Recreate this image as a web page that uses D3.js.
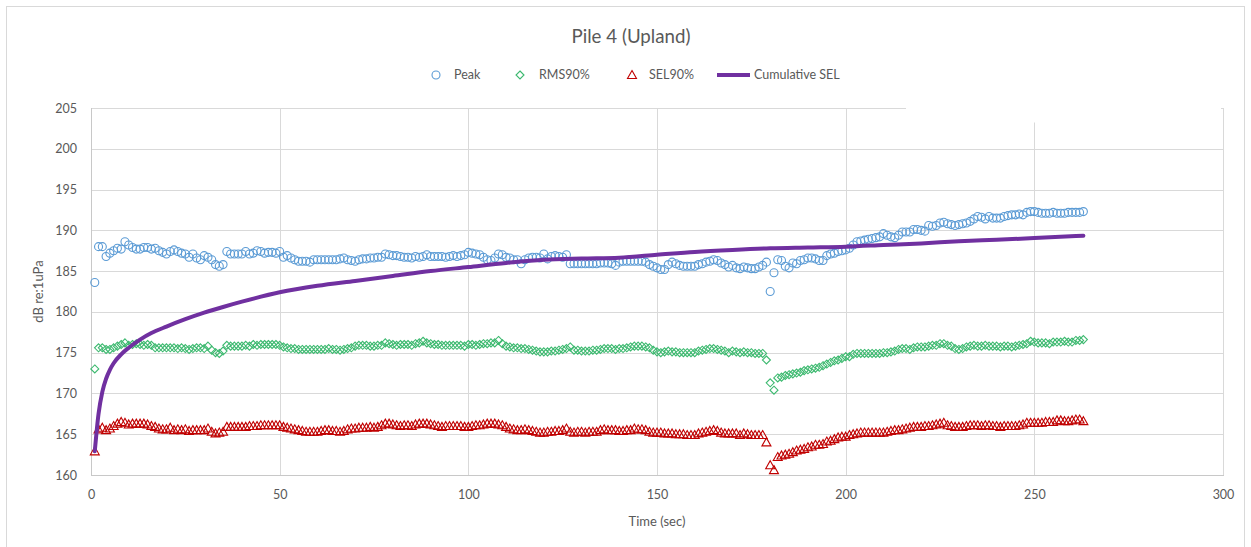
<!DOCTYPE html>
<html>
<head>
<meta charset="utf-8">
<script src="https://cdn.jsdelivr.net/npm/d3@7"></script>
<style>
  body { margin: 0; background: #fff; }
  text { font-family: Lato, "Open Sans", sans-serif; fill: #595959; }
</style>
</head>
<body>
<div id="chart"></div>
<script>
// readings per second, t = 1 .. 263
var peak = [
  183.6,188.0,188.0,186.8,187.2,187.5,187.8,187.7,188.6,
  188.2,187.9,187.7,187.7,187.9,187.9,187.7,187.8,187.5,187.3,
  187.1,187.4,187.6,187.4,187.2,187.1,186.7,187.1,186.6,186.4,
  186.9,186.7,186.4,185.8,185.6,185.8,187.4,187.1,187.1,187.1,
  187.1,187.4,187.1,187.2,187.5,187.4,187.2,187.3,187.3,187.2,
  187.4,186.7,186.9,186.6,186.4,186.2,186.2,186.2,186.1,186.4,
  186.4,186.4,186.4,186.4,186.4,186.4,186.5,186.6,186.4,186.3,186.2,
  186.4,186.5,186.5,186.6,186.6,186.7,186.7,187.1,187.0,186.9,
  186.9,186.8,186.7,186.7,186.6,186.8,186.7,186.8,187.0,186.8,
  186.8,186.8,186.8,186.7,186.8,186.9,186.8,186.9,187.0,187.3,
  187.2,187.1,187.0,186.7,186.4,186.3,186.6,187.1,187.0,186.7,
  186.6,186.4,186.4,185.9,186.4,186.6,186.7,186.7,186.6,187.1,
  186.5,186.8,186.9,186.8,186.7,187.0,185.9,185.9,185.9,185.9,
  185.9,185.9,185.9,185.9,186.0,186.0,186.0,185.9,185.7,186.1,
  186.2,186.2,186.2,186.2,186.2,186.2,186.1,185.8,185.6,185.4,
  185.2,185.2,185.8,186.1,185.9,185.7,185.6,185.6,185.6,185.6,
  185.8,185.9,186.1,186.2,186.4,186.3,186.0,185.8,185.5,185.7,
  185.4,185.3,185.5,185.4,185.3,185.3,185.5,185.7,186.1,182.5,
  184.8,186.4,186.3,185.6,185.4,186.0,185.9,186.3,186.4,186.6,
  186.6,186.5,186.3,186.3,186.9,187.1,187.2,187.4,187.5,187.6,
  187.8,188.2,188.6,188.7,188.8,188.9,189.0,189.1,189.2,189.6,
  189.4,189.2,189.1,189.4,189.8,189.8,189.8,190.1,190.1,190.0,
  189.9,190.6,190.5,190.6,190.9,191.0,190.8,190.7,190.6,190.7,
  190.8,190.9,191.1,191.4,191.7,191.6,191.4,191.7,191.5,191.5,
  191.5,191.7,191.8,191.9,191.9,192.0,191.9,192.2,192.3,192.3,
  192.2,192.1,192.1,192.1,192.2,192.1,192.1,192.1,192.2,192.2,
  192.2,192.2,192.3
];

var rms90 = [
  173.0,175.6,175.6,175.4,175.4,175.6,175.8,176.0,176.2,
  175.9,176.0,176.1,176.0,175.9,176.0,175.9,175.6,175.6,175.6,
  175.6,175.6,175.6,175.5,175.6,175.5,175.4,175.5,175.6,175.6,
  175.5,175.8,175.3,175.0,174.9,175.2,175.9,175.8,175.8,175.8,
  175.8,175.9,175.8,176.0,175.9,176.0,176.0,176.0,176.0,176.0,
  175.9,175.7,175.6,175.5,175.5,175.4,175.4,175.4,175.4,175.4,
  175.4,175.4,175.4,175.5,175.4,175.4,175.3,175.4,175.5,175.6,175.8,
  175.9,175.9,175.9,175.8,175.8,175.9,175.9,176.2,176.1,176.0,
  175.9,176.0,176.0,176.0,175.9,176.1,176.2,176.4,176.2,176.1,
  176.0,176.0,175.9,175.9,175.9,175.9,175.9,175.9,175.8,176.0,
  176.0,175.9,176.0,176.1,176.1,176.2,176.2,176.5,176.1,175.8,
  175.7,175.6,175.6,175.5,175.5,175.4,175.3,175.2,175.1,175.1,
  175.1,175.2,175.2,175.3,175.4,175.5,175.7,175.3,175.3,175.2,
  175.2,175.2,175.3,175.3,175.4,175.5,175.5,175.5,175.4,175.5,
  175.5,175.6,175.7,175.8,175.8,175.8,175.7,175.6,175.3,175.1,
  175.0,175.1,175.2,175.1,175.1,175.0,175.0,175.0,175.0,175.0,
  175.2,175.3,175.4,175.5,175.5,175.4,175.3,175.2,175.0,175.2,
  175.1,175.0,175.1,175.0,175.0,174.9,174.9,174.9,174.1,171.3,
  170.4,171.9,172.0,172.2,172.3,172.4,172.5,172.6,172.8,172.9,
  173.0,173.1,173.2,173.4,173.6,173.8,174.0,174.1,174.3,174.5,
  174.5,174.8,174.9,174.9,174.9,174.9,174.9,174.9,174.9,175.0,
  175.0,175.1,175.2,175.4,175.5,175.5,175.4,175.6,175.7,175.7,
  175.7,175.8,175.9,175.9,176.1,176.1,175.9,175.8,175.5,175.4,
  175.5,175.7,175.8,175.9,175.8,175.8,175.9,175.8,175.8,175.8,
  175.7,175.8,175.8,175.7,175.8,175.9,176.0,176.1,176.4,176.3,
  176.2,176.2,176.2,176.1,176.3,176.3,176.3,176.4,176.3,176.3,
  176.5,176.5,176.6
];

var sel90 = [
  162.9,165.6,165.8,165.5,165.7,166.0,166.3,166.5,166.4,
  166.2,166.3,166.3,166.3,166.3,166.2,166.0,165.9,165.7,165.6,
  165.6,165.8,165.5,165.6,165.5,165.6,165.4,165.5,165.5,165.5,
  165.5,165.7,165.3,165.1,165.2,165.3,165.9,165.9,165.9,165.9,
  165.9,165.9,166.0,166.0,166.0,166.1,166.1,166.1,166.1,166.1,
  166.1,165.9,165.8,165.7,165.6,165.5,165.4,165.3,165.3,165.3,
  165.3,165.4,165.5,165.5,165.4,165.4,165.3,165.4,165.6,165.7,165.7,
  165.8,165.8,165.8,165.9,165.8,165.9,166.1,166.3,166.3,166.2,
  166.1,166.0,166.1,166.1,166.0,166.2,166.3,166.3,166.3,166.2,
  166.1,166.0,165.9,166.0,166.0,166.0,166.0,166.0,165.9,165.9,
  166.0,166.1,166.1,166.2,166.3,166.3,166.3,166.2,166.1,165.9,
  165.7,165.6,165.5,165.5,165.6,165.5,165.4,165.3,165.2,165.2,
  165.3,165.3,165.4,165.4,165.5,165.7,165.3,165.2,165.3,165.3,
  165.2,165.3,165.3,165.3,165.5,165.6,165.5,165.5,165.5,165.4,
  165.4,165.5,165.5,165.7,165.6,165.6,165.5,165.3,165.2,165.2,
  165.2,165.1,165.1,165.1,165.0,165.0,165.0,164.9,164.9,164.9,
  165.1,165.2,165.3,165.4,165.5,165.4,165.2,165.1,165.1,165.1,
  165.1,164.9,165.1,165.0,164.9,164.9,164.9,164.9,164.0,161.2,
  160.6,162.2,162.4,162.5,162.6,162.8,163.0,163.1,163.2,163.4,
  163.5,163.7,163.7,163.8,164.1,164.2,164.4,164.6,164.7,164.7,
  164.9,165.0,165.1,165.2,165.2,165.2,165.2,165.2,165.2,165.2,
  165.3,165.4,165.5,165.5,165.6,165.7,165.8,165.9,165.9,165.9,
  166.0,166.0,166.1,166.2,166.3,166.4,166.1,166.0,165.9,165.9,
  165.9,166.0,166.1,166.1,166.1,166.0,166.1,166.1,166.0,166.0,
  165.9,166.0,166.0,166.0,166.0,166.1,166.2,166.4,166.4,166.4,
  166.4,166.4,166.5,166.5,166.5,166.7,166.7,166.6,166.6,166.7,
  166.8,166.8,166.6
];

// cumulative SEL, read at selected times
var cumTime = [1,2,3,4,5,6,8,10,13,16,20,25,30,35,40,50,60,70,80,90,100,110,120,130,140,150,160,170,180,190,200,210,220,230,240,250,263];
var cumSel = [162.9,167.5,170.2,171.8,172.9,173.7,174.8,175.6,176.6,177.4,178.2,179.1,179.9,180.6,181.25,182.4,183.2,183.8,184.4,185.0,185.5,186.0,186.4,186.55,186.65,187.0,187.35,187.6,187.8,187.9,188.0,188.2,188.4,188.65,188.85,189.05,189.35];

var xTicks = [0, 50, 100, 150, 200, 250, 300];
var yTicks = [160, 165, 170, 175, 180, 185, 190, 195, 200, 205];

var width = 1251, height = 547;
var plot = { left: 91, right: 1223, top: 108, bottom: 475 };

var svg = d3.select('#chart').append('svg')
    .attr('width', width)
    .attr('height', height);

svg.append('rect')
    .attr('x', 6.5).attr('y', 6.5)
    .attr('width', 1238).attr('height', 580)
    .attr('fill', '#fff')
    .attr('stroke', '#d9d9d9');

var x = d3.scaleLinear().domain([0, 300]).range([plot.left, plot.right]);
var y = d3.scaleLinear().domain([160, 205]).range([plot.bottom, plot.top]);

// gridlines
var grid = svg.append('g');
grid.selectAll('.hg').data(yTicks).enter().append('line')
    .attr('x1', plot.left).attr('x2', plot.right)
    .attr('y1', function(d) { return Math.round(y(d)) + 0.5 })
    .attr('y2', function(d) { return Math.round(y(d)) + 0.5 })
    .attr('stroke', '#d9d9d9');
grid.selectAll('.vg').data(xTicks).enter().append('line')
    .attr('y1', plot.top).attr('y2', plot.bottom)
    .attr('x1', function(d) { return Math.round(x(d)) + 0.5 })
    .attr('x2', function(d) { return Math.round(x(d)) + 0.5 })
    .attr('stroke', '#d9d9d9');

// white box over the top right corner of the grid (as in the original)
svg.append('rect')
    .attr('x', 906).attr('y', 96)
    .attr('width', 315).attr('height', 26.5)
    .attr('fill', '#fff');

// axis lines
svg.append('line')
    .attr('x1', plot.left + 0.5).attr('x2', plot.left + 0.5)
    .attr('y1', plot.top).attr('y2', plot.bottom)
    .attr('stroke', '#c8c8c8');
svg.append('line')
    .attr('x1', plot.left).attr('x2', plot.right + 1)
    .attr('y1', plot.bottom + 0.5).attr('y2', plot.bottom + 0.5)
    .attr('stroke', '#c8c8c8');

var xAxisG = svg.append('g')
    .attr('transform', 'translate(0,' + plot.bottom + ')')
    .call(d3.axisBottom(x).tickValues(xTicks).tickSize(0).tickPadding(15));
var yAxisG = svg.append('g')
    .attr('transform', 'translate(' + plot.left + ',0)')
    .call(d3.axisLeft(y).tickValues(yTicks).tickSize(0).tickPadding(14));
[xAxisG, yAxisG].forEach(function(g) {
    g.select('.domain').remove();
    g.selectAll('text')
        .style('font-family', 'Lato, sans-serif')
        .style('font-size', '12.5px')
        .attr('fill', '#595959');
});

svg.append('text')
    .attr('x', (plot.left + plot.right) / 2).attr('y', 526)
    .attr('text-anchor', 'middle')
    .style('font-size', '13px')
    .text('Time (sec)');

svg.append('text')
    .attr('transform', 'translate(38,' + (plot.top + plot.bottom) / 2 + ') rotate(-90)')
    .attr('text-anchor', 'middle')
    .attr('dy', '0.35em')
    .style('font-size', '13px')
    .text('dB re:1uPa');

svg.append('text')
    .attr('x', 631).attr('y', 43)
    .attr('text-anchor', 'middle')
    .style('font-size', '18.7px')
    .text('Pile 4 (Upland)');

// marker shapes
var circlePath = 'M4,0A4,4 0 1,1 -4,0A4,4 0 1,1 4,0Z';
var diamondPath = 'M0,-4L4,0L0,4L-4,0Z';
var trianglePath = 'M0,-4.5L4.5,3.5L-4.5,3.5Z';

var series = [
    { name: 'Peak', values: peak, color: '#5b9bd5', shape: circlePath },
    { name: 'RMS90%', values: rms90, color: '#3cb96f', shape: diamondPath },
    { name: 'SEL90%', values: sel90, color: '#c00000', shape: trianglePath }
];

series.forEach(function(s) {
    svg.append('g').selectAll('path')
        .data(s.values)
        .enter()
        .append('path')
        .attr('d', s.shape)
        .attr('transform', function(d, i) { return 'translate(' + x(i + 1) + ',' + y(d) + ')' })
        .attr('fill', 'none')
        .attr('stroke', s.color)
        .attr('stroke-width', 1.1);
});

var cumData = cumTime.map(function(t, i) { return { t: t, v: cumSel[i] } });
var line = d3.line()
    .x(function(d) { return x(d.t) })
    .y(function(d) { return y(d.v) })
    .curve(d3.curveMonotoneX);
svg.append('path')
    .datum(cumData)
    .attr('d', line)
    .attr('fill', 'none')
    .attr('stroke', '#7030a0')
    .attr('stroke-width', 4)
    .attr('stroke-linejoin', 'round')
    .attr('stroke-linecap', 'round');

// legend
var legendY = 75;
var legendItems = [
    { name: 'Peak', symX: 436, textX: 454, shape: circlePath, color: '#5b9bd5' },
    { name: 'RMS90%', symX: 520, textX: 539, shape: diamondPath, color: '#3cb96f' },
    { name: 'SEL90%', symX: 632, textX: 649, shape: trianglePath, color: '#c00000' },
    { name: 'Cumulative SEL', symX: 733, textX: 754, shape: null, color: '#7030a0' }
];
var legend = svg.append('g');
legendItems.forEach(function(it) {
    if (it.shape) {
        legend.append('path')
            .attr('d', it.shape)
            .attr('transform', 'translate(' + it.symX + ',' + legendY + ')')
            .attr('fill', 'none')
            .attr('stroke', it.color)
            .attr('stroke-width', 1.1);
    } else {
        legend.append('line')
            .attr('x1', it.symX - 16).attr('x2', it.symX + 17)
            .attr('y1', legendY).attr('y2', legendY)
            .attr('stroke', it.color)
            .attr('stroke-width', 4);
    }
    legend.append('text')
        .attr('x', it.textX).attr('y', legendY)
        .attr('dy', '0.35em')
        .style('font-size', '12.5px')
        .text(it.name);
});
</script>
</body>
</html>
